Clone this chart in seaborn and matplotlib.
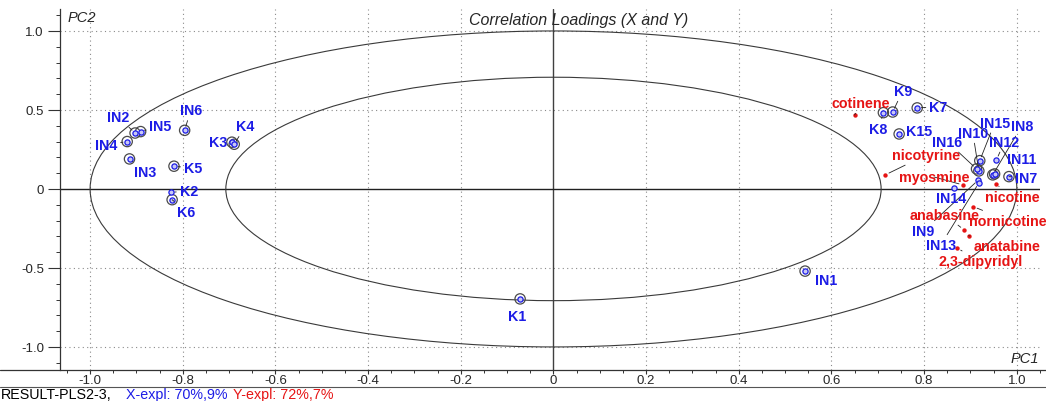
import numpy as np
import pandas as pd
import matplotlib
matplotlib.use("Agg")
import matplotlib.pyplot as plt
from matplotlib.patches import Ellipse
from matplotlib.lines import Line2D
from matplotlib.ticker import FuncFormatter, MultipleLocator
import seaborn as sns

# X loadings (samples)
x_names = ["IN1", "IN2", "IN3", "IN4", "IN5", "IN6", "IN7", "IN8", "IN9", "IN10",
           "IN11", "IN12", "IN13", "IN14", "IN15", "IN16",
           "K1", "K2", "K3", "K4", "K5", "K6", "K7", "K8", "K9", "K15"]
x_pc1 = [0.543, -0.903, -0.915, -0.920, -0.891, -0.796, 0.983, 0.948, 0.917, 0.918,
         0.952, 0.956, 0.918, 0.864, 0.920, 0.913,
         -0.072, -0.826, -0.694, -0.689, -0.819, -0.823, 0.785, 0.712, 0.732, 0.746]
x_pc2 = [-0.520, 0.354, 0.190, 0.300, 0.363, 0.371, 0.078, 0.089, 0.057, 0.114,
         0.095, 0.184, 0.038, 0.006, 0.179, 0.127,
         -0.696, -0.021, 0.296, 0.283, 0.144, -0.068, 0.513, 0.483, 0.487, 0.348]
x_small = ["IN9", "IN12", "IN13", "IN14", "K2"]

# Y loadings (alkaloids)
y_names = ["cotinene", "nicotyrine", "myosmine", "nicotine", "nornicotine",
           "anabasine", "anatabine", "2,3-dipyridyl"]
y_pc1 = [0.650, 0.716, 0.884, 0.954, 0.906, 0.886, 0.896, 0.871]
y_pc2 = [0.468, 0.089, 0.025, 0.032, -0.112, -0.259, -0.296, -0.375]

# label offsets in pixels (dx, dy) and whether a leader line is drawn
label_pos = {
    "IN1": (21, -9, False), "IN2": (-17, 16, True), "IN3": (16, -13, True),
    "IN4": (-21, -3, True), "IN5": (20, 6, True), "IN6": (6, 20, True),
    "IN7": (17, -1, True), "IN8": (29, 49, True), "IN9": (-55, -51, True),
    "IN10": (-6, 38, True), "IN11": (27, 15, False), "IN12": (8, 18, True),
    "IN13": (-38, -62, True), "IN14": (-3, -10, False), "IN15": (15, 38, True),
    "IN16": (-29, 27, True),
    "K1": (-3, -17, False), "K2": (18, 1, True), "K3": (-14, 0, False),
    "K4": (11, 18, True), "K5": (19, -2, True), "K6": (14, -12, True),
    "K7": (21, 1, True), "K8": (-5, -16, True), "K9": (10, 21, True),
    "K15": (20, 3, False),
    "cotinene": (6, 12, True), "nicotyrine": (41, 20, True), "myosmine": (-29, 8, True),
    "nicotine": (17, -13, True), "nornicotine": (35, -14, True),
    "anabasine": (-19, 15, True), "anatabine": (38, -10, True),
    "2,3-dipyridyl": (24, -13, True),
}

BLUE = "#1c1ce6"
RED = "#e61414"

sns.set_theme(style="white")
plt.rcParams["font.family"] = ["Liberation Sans", "DejaVu Sans"]
plt.rcParams["axes.unicode_minus"] = False

xdf = pd.DataFrame({"name": x_names, "pc1": x_pc1, "pc2": x_pc2})
xdf["small"] = xdf["name"].isin(x_small)
ydf = pd.DataFrame({"name": y_names, "pc1": y_pc1, "pc2": y_pc2})

fig = plt.figure(figsize=(10.46, 4.02), dpi=100)
ax = fig.add_axes([60 / 1046, 31 / 402, 980 / 1046, 361 / 402])
ax.set_xlim(-1.065, 1.050)
ax.set_ylim(-1.146, 1.139)

# grid
for gx in [-1.0, -0.8, -0.6, -0.4, -0.2, 0.2, 0.4, 0.6, 0.8, 1.0]:
    ax.axvline(gx, color="#8a8a8a", lw=0.8, ls=(0, (1, 3)), zorder=0)
for gy in [-1.0, -0.5, 0.5, 1.0]:
    ax.axhline(gy, color="#8a8a8a", lw=0.8, ls=(0, (1, 3)), zorder=0)
ax.axvline(0, color="#404040", lw=1.0, zorder=1)
ax.axhline(0, color="#202020", lw=1.0, zorder=1)

# correlation ellipses (100% and 50% explained variance)
for r in [1.0, np.sqrt(0.5)]:
    ax.add_patch(Ellipse((0, 0), 2 * r, 2 * r, fill=False, ec="#3a3a3a", lw=0.8, zorder=1))

# markers
big = xdf[~xdf["small"]]
sns.scatterplot(data=big, x="pc1", y="pc2", ax=ax, s=55, facecolor="none",
                edgecolor="#4a4a4a", linewidth=0.9, zorder=3, legend=False)
sns.scatterplot(data=xdf, x="pc1", y="pc2", ax=ax, s=14, color="#c8c8f5",
                edgecolor=BLUE, linewidth=0.9, zorder=4, legend=False)
sns.scatterplot(data=ydf, x="pc1", y="pc2", ax=ax, s=10, color=RED,
                edgecolor=RED, linewidth=0, zorder=4, legend=False)

def put_labels(df, color):
    for name, px, py in zip(df["name"], df["pc1"], df["pc2"]):
        dx, dy, line = label_pos[name]
        props = dict(arrowstyle="-", color="#222222", lw=0.6, shrinkA=0, shrinkB=3) if line else None
        ax.annotate(name, (px, py), xytext=(dx, dy), textcoords="offset pixels",
                    ha="center", va="center", color=color, fontsize=10.3,
                    fontweight="bold", arrowprops=props, zorder=5)

put_labels(xdf, BLUE)
put_labels(ydf, RED)

# axes styling
ax.set_xlabel("")
ax.set_ylabel("")
for side in ["top", "right", "bottom"]:
    ax.spines[side].set_visible(False)
ax.spines["left"].set_color("#333333")
ax.spines["left"].set_linewidth(0.9)

fmt = FuncFormatter(lambda v, p: "0" if abs(v) < 1e-9 else f"{v:.1f}")
ax.set_xticks(np.arange(-1.0, 1.01, 0.2))
ax.set_yticks([-1.0, -0.5, 0.0, 0.5, 1.0])
ax.xaxis.set_major_formatter(fmt)
ax.yaxis.set_major_formatter(fmt)
ax.xaxis.set_minor_locator(MultipleLocator(0.05))
ax.yaxis.set_minor_locator(MultipleLocator(0.1))
ax.tick_params(axis="x", which="major", direction="out", length=3.2, width=0.8,
               color="#333333", labelsize=9.5, pad=0, bottom=True)
ax.tick_params(axis="x", which="minor", direction="out", length=2, width=0.7,
               color="#333333", bottom=True)
ax.tick_params(axis="y", which="major", direction="out", length=8.6, width=0.8,
               color="#333333", labelsize=9.5, pad=3, left=True)
ax.tick_params(axis="y", which="minor", direction="out", length=3, width=0.7,
               color="#333333", left=True)

# frame lines below the plot
fig.add_artist(Line2D([0, 1], [31 / 402, 31 / 402], color="#333333", lw=0.9))
fig.add_artist(Line2D([0, 1], [14 / 402, 14 / 402], color="#555555", lw=0.8))

fig.text(579 / 1046, 1 - 21 / 402, "Correlation Loadings (X and Y)", ha="center",
         va="center", fontsize=11.5, style="italic")
fig.text(68 / 1046, 1 - 18 / 402, "PC2", ha="left", va="center", fontsize=10.5, style="italic")
fig.text(1011 / 1046, 1 - 359 / 402, "PC1", ha="left", va="center", fontsize=10.5, style="italic")

fig.text(1 / 1046, 2.5 / 402, "RESULT-PLS2-3,", ha="left", va="baseline", fontsize=10.3, color="black")
fig.text(126 / 1046, 2.5 / 402, "X-expl: 70%,9%", ha="left", va="baseline", fontsize=10.3, color=BLUE)
fig.text(233 / 1046, 2.5 / 402, "Y-expl: 72%,7%", ha="left", va="baseline", fontsize=10.3, color=RED)

fig.savefig("out.png", dpi=100)
